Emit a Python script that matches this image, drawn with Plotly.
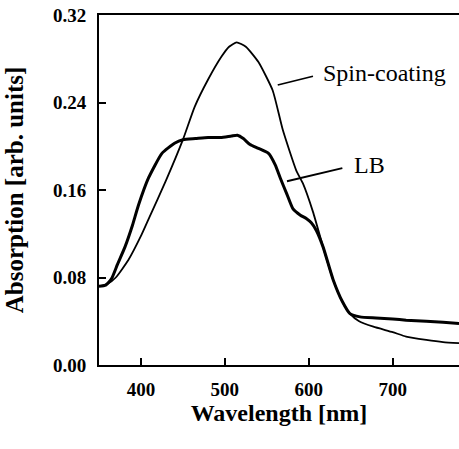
import plotly.graph_objects as go

# Data
spin_wl = [350, 360, 370, 385, 400, 410, 430, 450, 464, 480, 496, 505, 514, 525, 540,
           557, 569, 585, 593, 605, 617, 629, 640, 649, 660, 677, 700, 716, 740, 760, 779]
spin_abs = [0.072, 0.074, 0.080, 0.096, 0.118, 0.135, 0.169, 0.206, 0.236, 0.261, 0.282,
            0.291, 0.295, 0.291, 0.277, 0.251, 0.215, 0.178, 0.166, 0.140, 0.108, 0.078,
            0.058, 0.047, 0.040, 0.035, 0.030, 0.026, 0.023, 0.021, 0.020]

lb_wl = [350, 358, 365, 372, 381, 390, 397, 409, 425, 440, 450, 465, 480, 495, 508, 515,
         522, 530, 540, 552, 560, 566, 574, 581, 590, 597, 603, 609, 617, 629, 640, 649,
         661, 680, 700, 716, 740, 760, 779]
lb_abs = [0.072, 0.073, 0.079, 0.092, 0.108, 0.128, 0.146, 0.171, 0.1935, 0.2027, 0.206,
          0.207, 0.208, 0.208, 0.2094, 0.210, 0.207, 0.2015, 0.198, 0.1935, 0.183, 0.171,
          0.156, 0.143, 0.137, 0.134, 0.130, 0.123, 0.108, 0.078, 0.058, 0.047, 0.044,
          0.043, 0.042, 0.041, 0.040, 0.039, 0.038]

x_ticks = [400, 500, 600, 700]
y_ticks = [0.00, 0.08, 0.16, 0.24, 0.32]

fig = go.Figure()
fig.add_trace(go.Scatter(x=spin_wl, y=spin_abs, mode="lines",
                         line=dict(color="black", width=1.8, shape="spline", smoothing=0.5),
                         showlegend=False, hoverinfo="skip"))
fig.add_trace(go.Scatter(x=lb_wl, y=lb_abs, mode="lines",
                         line=dict(color="black", width=3, shape="spline", smoothing=0.5),
                         showlegend=False, hoverinfo="skip"))

# leader lines
fig.add_shape(type="line", x0=563, y0=0.256, x1=605, y1=0.264,
              line=dict(color="black", width=1.8))
fig.add_shape(type="line", x0=574, y0=0.168, x1=640, y1=0.180,
              line=dict(color="black", width=1.8))

fig.add_annotation(x=615, y=0.267, text="Spin-coating", showarrow=False,
                   xanchor="left", yanchor="middle",
                   font=dict(family="Liberation Serif", size=24, color="black"))
fig.add_annotation(x=651, y=0.183, text="LB", showarrow=False,
                   xanchor="left", yanchor="middle",
                   font=dict(family="Liberation Serif", size=24, color="black"))

fig.update_layout(
    width=459, height=449,
    margin=dict(l=99, r=0, t=15, b=84),
    paper_bgcolor="white", plot_bgcolor="white",
    font=dict(family="Liberation Serif", color="black"),
    xaxis=dict(range=[350, 779], tickvals=x_ticks, ticks="inside", ticklen=7,
               tickwidth=1.5, tickcolor="black", showline=True, linecolor="black",
               linewidth=2, mirror=True, showgrid=False, zeroline=False,
               automargin=False, ticklabelstandoff=6,
               tickfont=dict(family="Liberation Serif", size=19, weight="bold"),
               title=dict(text="<b>Wavelength [nm]</b>", standoff=0,
                          font=dict(family="Liberation Serif", size=24))),
    yaxis=dict(range=[0, 0.32], tickvals=y_ticks, tickformat=".2f", ticks="inside",
               ticklen=7, tickwidth=1.5, tickcolor="black", showline=True,
               linecolor="black", linewidth=2, mirror=False, showgrid=False,
               zeroline=False, ticklabelstandoff=7, automargin=False,
               ticklabeloverflow="allow",
               tickfont=dict(family="Liberation Serif", size=19, weight="bold"),
               title=dict(text="<b>Absorption [arb. units]</b>", standoff=22,
                          font=dict(family="Liberation Serif", size=25))),
)

# remove the default 8px page margin so the figure fills the window exactly
fig.write_html("out.html",
               config={"displayModeBar": False},
               post_script="document.body.style.margin='0';document.body.style.overflow='hidden';")
